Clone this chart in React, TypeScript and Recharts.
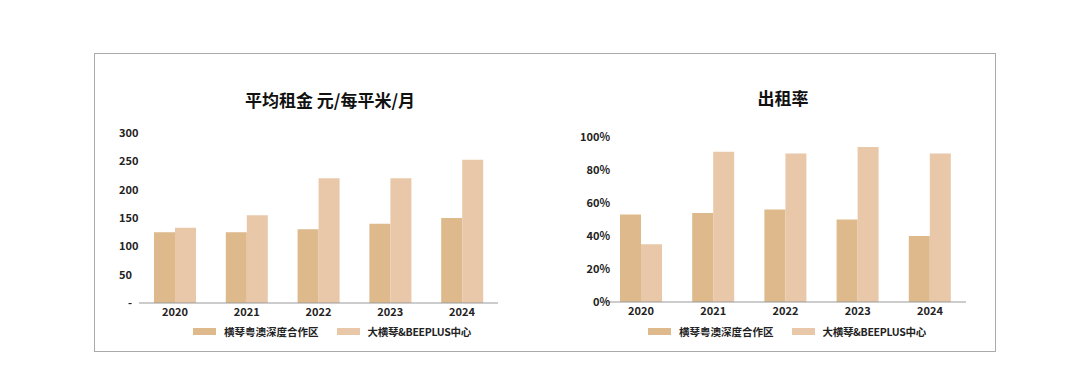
import React from 'react';
import { BarChart, Bar, XAxis, YAxis, Legend } from 'recharts';

const years = ['2020', '2021', '2022', '2023', '2024'];
// 平均租金 元/每平米/月
const rentHengqin = [125, 125, 130, 140, 150];
const rentBeeplus = [133, 155, 220, 220, 253];
// 出租率 (%)
const occHengqin = [53, 54, 56, 50, 40];
const occBeeplus = [35, 91, 90, 94, 90];

const rentTicks = [0, 50, 100, 150, 200, 250, 300];
const occTicks = [0, 20, 40, 60, 80, 100];

const seriesNames = ['横琴粤澳深度合作区', '大横琴&BEEPLUS中心'];
const colors = ['#DDB98B', '#E9C8A9'];

const font = '"Noto Sans CJK SC", "Noto Sans", sans-serif';

const rentData = years.map((y, i) => ({ year: y, a: rentHengqin[i], b: rentBeeplus[i] }));
const occData = years.map((y, i) => ({ year: y, a: occHengqin[i], b: occBeeplus[i] }));

const tickStyle = { fontSize: 11, fontWeight: 700, fill: '#222', fontFamily: font };

const LegendContent = () => (
  <div style={{ display: 'flex', alignItems: 'center', fontFamily: font, fontSize: 10.5, fontWeight: 700, color: '#222' }}>
    {seriesNames.map((n, i) => (
      <div key={n} style={{ display: 'flex', alignItems: 'center', marginRight: 18 }}>
        <span style={{ width: 23, height: 7, background: colors[i], marginRight: 8, display: 'inline-block' }} />
        <span style={i === 1 ? { letterSpacing: -0.3 } : undefined}>{n}</span>
      </div>
    ))}
  </div>
);

// 左轴标签左对齐
const RentTick = (props: any) => {
  const { y, payload } = props;
  const label = payload.value === 0 ? '-' : String(payload.value);
  return (
    <text x={payload.value === 0 ? 128 : 119} y={y} dy="0.35em" textAnchor="start" style={tickStyle}>
      {label}
    </text>
  );
};

const Title = ({ text, cx, cy }: { text: string; cx: number; cy: number }) => (
  <div style={{
    position: 'absolute', left: cx - 150, top: cy - 12, width: 300, textAlign: 'center',
    fontFamily: font, fontSize: 17, fontWeight: 700, color: '#111', lineHeight: '24px',
  }}>{text}</div>
);

export default function App() {
  return (
    <div style={{ position: 'absolute', left: 0, top: 0, width: 1080, height: 390, background: '#fff' }}>
      <div style={{ position: 'absolute', left: 94, top: 53, width: 902, height: 299, border: '1px solid #aaa', boxSizing: 'border-box' }} />
      <Title text="平均租金 元/每平米/月" cx={330} cy={100} />
      <Title text="出租率" cx={783} cy={98} />

      <div style={{ position: 'absolute', left: 0, top: 0 }}>
        <BarChart width={540} height={390} data={rentData} margin={{ top: 133, right: 42, left: 109, bottom: 52 }} barGap={0} barCategoryGap="20%">
          <XAxis dataKey="year" tickLine={false} axisLine={{ stroke: '#999' }} tick={{ ...tickStyle, dy: -3 }} height={20} interval={0} />
          <YAxis width={30} domain={[0, 300]} ticks={rentTicks} tickLine={false} axisLine={false} tick={<RentTick />} />
          <Legend content={<LegendContent />} wrapperStyle={{ left: 193, bottom: 51, width: 320 }} />
          {['a', 'b'].map((k, i) => (
            <Bar key={k} dataKey={k} name={seriesNames[i]} fill={colors[i]} barSize={21} isAnimationActive={false} />
          ))}
        </BarChart>
      </div>

      <div style={{ position: 'absolute', left: 540, top: 0 }}>
        <BarChart width={540} height={390} data={occData} margin={{ top: 137, right: 114, left: 35, bottom: 53 }} barGap={0} barCategoryGap="20%">
          <XAxis dataKey="year" tickLine={false} axisLine={{ stroke: '#999' }} tick={{ ...tickStyle, dy: -3 }} height={20} interval={0} />
          <YAxis width={30} domain={[0, 100]} ticks={occTicks} tickLine={false} axisLine={false} tick={{ ...tickStyle, dx: 13 }} tickFormatter={(v: number) => `${v}%`} />
          <Legend content={<LegendContent />} wrapperStyle={{ left: 108, bottom: 51, width: 320 }} />
          {['a', 'b'].map((k, i) => (
            <Bar key={k} dataKey={k} name={seriesNames[i]} fill={colors[i]} barSize={21} isAnimationActive={false} />
          ))}
        </BarChart>
      </div>
    </div>
  );
}
